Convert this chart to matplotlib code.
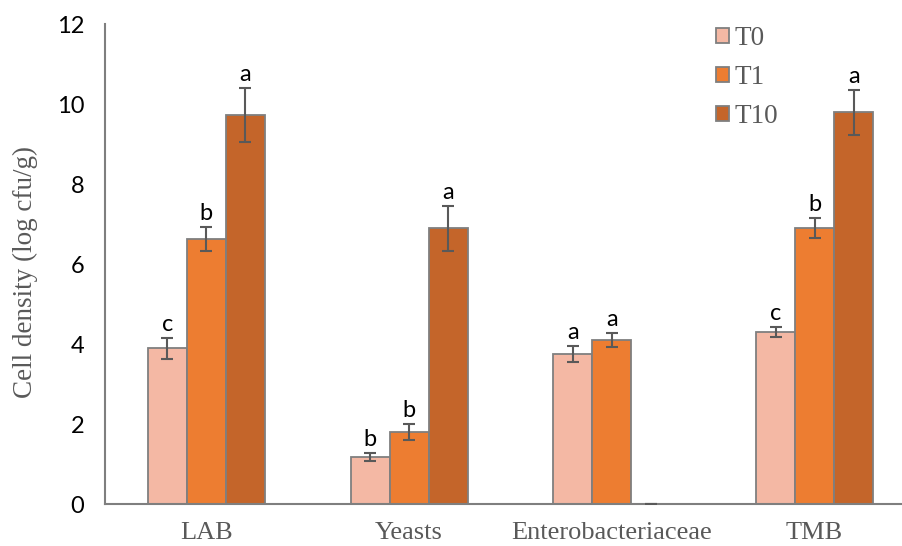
import numpy as np
import matplotlib.pyplot as plt
from matplotlib.patches import Patch

# Microbial groups and sampling times
groups = ['LAB', 'Yeasts', 'Enterobacteriaceae', 'TMB']
times = ['T0', 'T1', 'T10']

# Mean cell density (log cfu/g) per time point
t0_mean = [3.90, 1.19, 3.76, 4.31]
t1_mean = [6.63, 1.80, 4.11, 6.92]
t10_mean = [9.73, 6.90, 0.0, 9.80]

# Standard deviations
t0_sd = [0.27, 0.10, 0.21, 0.13]
t1_sd = [0.30, 0.20, 0.18, 0.25]
t10_sd = [0.68, 0.57, 0.0, 0.57]

# Significance letters
t0_letters = ['c', 'b', 'a', 'c']
t1_letters = ['b', 'b', 'a', 'b']
t10_letters = ['a', 'a', '', 'a']

colors = ['#F4B8A4', '#ED7D31', '#C4652A']
edge = '#7F7F7F'
grey_text = '#595959'
serif = 'Liberation Serif'
sans = 'Lato'

fig = plt.figure(figsize=(9.03, 5.46), dpi=100)
ax = fig.add_axes([105 / 903, 0.0764, 1 - 105 / 903, 0.8789])

x = np.arange(len(groups))
w = 0.1924
means = [t0_mean, t1_mean, t10_mean]
sds = [t0_sd, t1_sd, t10_sd]
letters = [t0_letters, t1_letters, t10_letters]

for i in range(3):
    pos = x + (i - 1) * w
    ax.bar(pos, means[i], width=w, color=colors[i], edgecolor=edge, linewidth=1.3, zorder=2)
    ax.errorbar(pos, means[i], yerr=sds[i], fmt='none', ecolor=grey_text,
                elinewidth=1.5, capsize=4, capthick=1.5, zorder=3)
    for px, m, s, lab in zip(pos, means[i], sds[i], letters[i]):
        if lab:
            ax.annotate(lab, (px, m + s), xytext=(0, 5), textcoords='offset points',
                        ha='center', va='baseline', fontsize=17, family=sans, color='black')

ax.set_xlim(-0.5, 3.436)
ax.set_ylim(0, 12)
ax.set_yticks(range(0, 13, 2))
ax.set_xticks(x)
ax.set_xticklabels(groups, family=serif, fontsize=19, color=grey_text)
ax.tick_params(axis='both', length=0)
ax.tick_params(axis='y', pad=15, labelsize=17)
ax.tick_params(axis='x', pad=12.5)
for t in ax.get_yticklabels():
    t.set_family(sans)

for side in ['top', 'right']:
    ax.spines[side].set_visible(False)
for side in ['left', 'bottom']:
    ax.spines[side].set_color(edge)
    ax.spines[side].set_linewidth(1.5)

ax.set_ylabel('Cell density (log cfu/g)', family=serif, fontsize=19.5, color=grey_text)
ax.yaxis.set_label_coords(-0.084, 0.484)

handles = [Patch(facecolor=c, edgecolor=edge, linewidth=1.3) for c in colors]
leg = ax.legend(handles, times, loc='upper left', bbox_to_anchor=(716 / 903, 1 - 26 / 546),
                bbox_transform=fig.transFigure, frameon=False, borderpad=0, borderaxespad=0,
                handlelength=0.48, handleheight=0.48, handletextpad=0.22, labelspacing=0.52,
                prop={'family': serif, 'size': 19.5})
for t in leg.get_texts():
    t.set_color(grey_text)

fig.savefig('out.png', dpi=100)
